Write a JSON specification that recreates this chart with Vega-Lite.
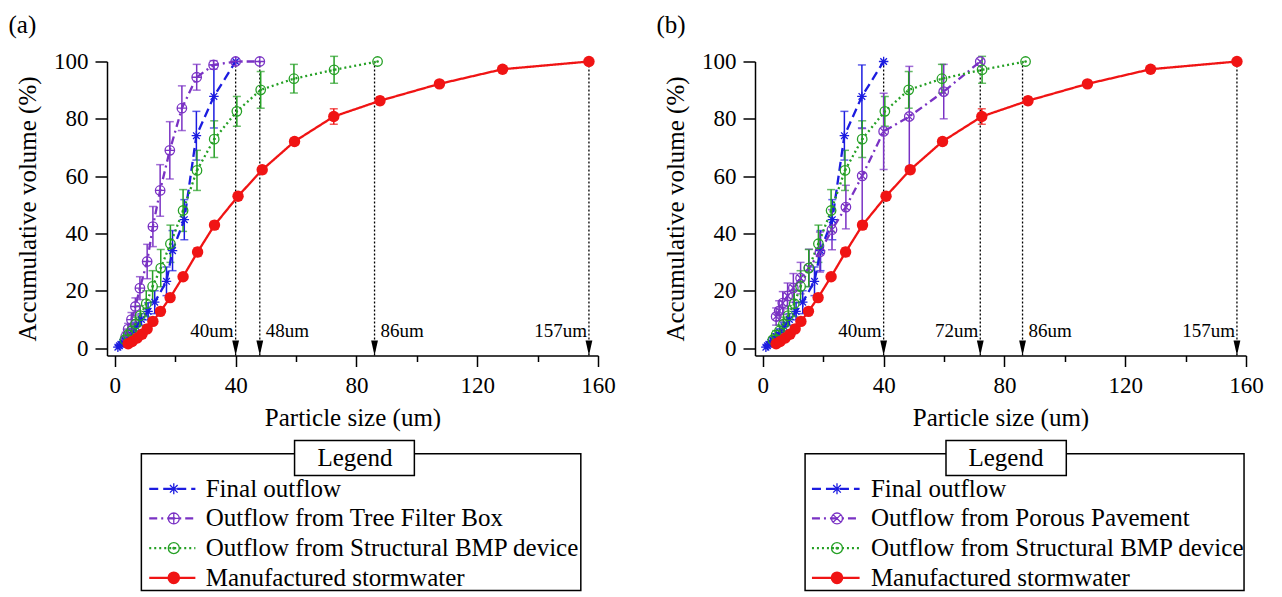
{
"$schema": "https://vega.github.io/schema/vega-lite/v6.json",
"background": "white",
"padding": {"left": 8, "top": 12.5, "right": 5, "bottom": 0},
"columns": 2,
"spacing": {"row": 84.3, "column": 157},
"bounds": "flush",
"config": {"font": "Liberation Serif", "view": {"stroke": null},
 "axis": {"domainColor": "black", "domainWidth": 1.5, "tickColor": "black", "tickWidth": 1.5, "labelFont": "Liberation Serif", "labelFontSize": 23, "labelColor": "black", "titleFont": "Liberation Serif", "titleFontSize": 25, "titleFontWeight": "normal", "titleColor": "black", "grid": false},
 "title": {"font": "Liberation Serif", "fontSize": 25, "fontWeight": "normal", "color": "black"}},
"datasets": {
 "s": [
  {"p":"ab","s":"Final outflow","x":1.0,"y":0.3,"e":0},
  {"p":"ab","s":"Final outflow","x":1.5,"y":0.8,"e":0},
  {"p":"ab","s":"Final outflow","x":2.0,"y":1.3,"e":0},
  {"p":"ab","s":"Final outflow","x":2.6,"y":1.9,"e":0},
  {"p":"ab","s":"Final outflow","x":3.3,"y":2.7,"e":0.8},
  {"p":"ab","s":"Final outflow","x":4.4,"y":4.0,"e":1},
  {"p":"ab","s":"Final outflow","x":5.6,"y":5.5,"e":1.2},
  {"p":"ab","s":"Final outflow","x":7.0,"y":7.5,"e":1.5},
  {"p":"ab","s":"Final outflow","x":8.8,"y":10.0,"e":2},
  {"p":"ab","s":"Final outflow","x":11.0,"y":12.8,"e":3},
  {"p":"ab","s":"Final outflow","x":13.2,"y":16.0,"e":4},
  {"p":"ab","s":"Final outflow","x":17.1,"y":23.3,"e":5},
  {"p":"ab","s":"Final outflow","x":19.1,"y":34.0,"e":7},
  {"p":"ab","s":"Final outflow","x":23.0,"y":44.8,"e":7},
  {"p":"ab","s":"Final outflow","x":27.0,"y":74.1,"e":8.5},
  {"p":"ab","s":"Final outflow","x":32.8,"y":87.8,"e":11},
  {"p":"ab","s":"Final outflow","x":40.0,"y":100,"e":0},
  {"p":"a","s":"Outflow from Tree Filter Box","x":3.6,"y":4.0,"e":1.5},
  {"p":"a","s":"Outflow from Tree Filter Box","x":4.4,"y":6.6,"e":2},
  {"p":"a","s":"Outflow from Tree Filter Box","x":5.5,"y":9.9,"e":2.5},
  {"p":"a","s":"Outflow from Tree Filter Box","x":6.8,"y":14.5,"e":3},
  {"p":"a","s":"Outflow from Tree Filter Box","x":8.3,"y":20.9,"e":4},
  {"p":"a","s":"Outflow from Tree Filter Box","x":10.7,"y":30.2,"e":6},
  {"p":"a","s":"Outflow from Tree Filter Box","x":12.6,"y":42.4,"e":7},
  {"p":"a","s":"Outflow from Tree Filter Box","x":15.0,"y":55.0,"e":9},
  {"p":"a","s":"Outflow from Tree Filter Box","x":18.2,"y":69.0,"e":10},
  {"p":"a","s":"Outflow from Tree Filter Box","x":22.2,"y":83.7,"e":7.8},
  {"p":"a","s":"Outflow from Tree Filter Box","x":27.1,"y":94.5,"e":4.5},
  {"p":"a","s":"Outflow from Tree Filter Box","x":32.7,"y":98.8,"e":1.5},
  {"p":"a","s":"Outflow from Tree Filter Box","x":40.0,"y":100,"e":0},
  {"p":"a","s":"Outflow from Tree Filter Box","x":48.0,"y":100,"e":0},
  {"p":"b","s":"Outflow from Porous Pavement","x":4.4,"y":11.0,"e":3},
  {"p":"b","s":"Outflow from Porous Pavement","x":5.4,"y":13.0,"e":3.5},
  {"p":"b","s":"Outflow from Porous Pavement","x":6.6,"y":15.7,"e":4},
  {"p":"b","s":"Outflow from Porous Pavement","x":8.2,"y":18.2,"e":4.5},
  {"p":"b","s":"Outflow from Porous Pavement","x":10.1,"y":21.0,"e":5},
  {"p":"b","s":"Outflow from Porous Pavement","x":12.5,"y":24.4,"e":5.5},
  {"p":"b","s":"Outflow from Porous Pavement","x":15.3,"y":28.0,"e":6.5},
  {"p":"b","s":"Outflow from Porous Pavement","x":18.9,"y":33.5,"e":7},
  {"p":"b","s":"Outflow from Porous Pavement","x":22.9,"y":41.3,"e":7},
  {"p":"b","s":"Outflow from Porous Pavement","x":27.5,"y":49.2,"e":7.6},
  {"p":"b","s":"Outflow from Porous Pavement","x":32.9,"y":60.1,"e":16.5},
  {"p":"b","s":"Outflow from Porous Pavement","x":40.0,"y":75.6,"e":13.3},
  {"p":"b","s":"Outflow from Porous Pavement","x":48.5,"y":80.8,"e":17.5},
  {"p":"b","s":"Outflow from Porous Pavement","x":59.9,"y":89.5,"e":9.5},
  {"p":"b","s":"Outflow from Porous Pavement","x":72.0,"y":100,"e":0},
  {"p":"ab","s":"Outflow from Structural BMP device","x":3.3,"y":2.9,"e":1},
  {"p":"ab","s":"Outflow from Structural BMP device","x":4.4,"y":4.6,"e":1.5},
  {"p":"ab","s":"Outflow from Structural BMP device","x":5.5,"y":6.0,"e":2},
  {"p":"ab","s":"Outflow from Structural BMP device","x":6.8,"y":8.3,"e":2.5},
  {"p":"ab","s":"Outflow from Structural BMP device","x":8.4,"y":11.3,"e":3.5},
  {"p":"ab","s":"Outflow from Structural BMP device","x":10.4,"y":15.5,"e":4.5},
  {"p":"ab","s":"Outflow from Structural BMP device","x":12.5,"y":21.5,"e":5.5},
  {"p":"ab","s":"Outflow from Structural BMP device","x":15.2,"y":27.9,"e":6.5},
  {"p":"ab","s":"Outflow from Structural BMP device","x":18.4,"y":36.4,"e":6.5},
  {"p":"ab","s":"Outflow from Structural BMP device","x":22.6,"y":48.0,"e":7.3},
  {"p":"ab","s":"Outflow from Structural BMP device","x":27.2,"y":62.0,"e":7},
  {"p":"ab","s":"Outflow from Structural BMP device","x":32.9,"y":72.9,"e":6.4},
  {"p":"ab","s":"Outflow from Structural BMP device","x":40.4,"y":82.6,"e":5.2},
  {"p":"ab","s":"Outflow from Structural BMP device","x":48.3,"y":90.1,"e":6.4},
  {"p":"ab","s":"Outflow from Structural BMP device","x":59.3,"y":94.0,"e":5},
  {"p":"ab","s":"Outflow from Structural BMP device","x":72.6,"y":97.1,"e":4.7},
  {"p":"ab","s":"Outflow from Structural BMP device","x":87.0,"y":100,"e":0},
  {"p":"ab","s":"Manufactured stormwater","x":4.4,"y":1.5,"e":0},
  {"p":"ab","s":"Manufactured stormwater","x":5.7,"y":2.3,"e":0},
  {"p":"ab","s":"Manufactured stormwater","x":7.4,"y":3.5,"e":0},
  {"p":"ab","s":"Manufactured stormwater","x":9.0,"y":4.8,"e":0},
  {"p":"ab","s":"Manufactured stormwater","x":10.7,"y":6.7,"e":0.7},
  {"p":"ab","s":"Manufactured stormwater","x":12.6,"y":9.3,"e":0.8},
  {"p":"ab","s":"Manufactured stormwater","x":15.1,"y":12.8,"e":0.8},
  {"p":"ab","s":"Manufactured stormwater","x":18.3,"y":17.6,"e":1},
  {"p":"ab","s":"Manufactured stormwater","x":22.6,"y":24.9,"e":1.2},
  {"p":"ab","s":"Manufactured stormwater","x":27.4,"y":33.5,"e":1.5},
  {"p":"ab","s":"Manufactured stormwater","x":33.0,"y":42.9,"e":1.3},
  {"p":"ab","s":"Manufactured stormwater","x":40.8,"y":53.0,"e":1.3},
  {"p":"ab","s":"Manufactured stormwater","x":48.8,"y":62.2,"e":1.3},
  {"p":"ab","s":"Manufactured stormwater","x":59.5,"y":72.1,"e":1.1},
  {"p":"ab","s":"Manufactured stormwater","x":72.5,"y":80.8,"e":2.7},
  {"p":"ab","s":"Manufactured stormwater","x":87.8,"y":86.3,"e":1.3},
  {"p":"ab","s":"Manufactured stormwater","x":107.5,"y":92.2,"e":0.5},
  {"p":"ab","s":"Manufactured stormwater","x":128.4,"y":97.3,"e":0.5},
  {"p":"ab","s":"Manufactured stormwater","x":157.0,"y":100,"e":0}
 ],
 "vl": [
  {"p":"a","x":40,"y":100,"lab":"40um"},
  {"p":"a","x":48,"y":100,"lab":"48um"},
  {"p":"a","x":86,"y":100,"lab":"86um"},
  {"p":"a","x":157,"y":100,"lab":"157um"},
  {"p":"b","x":40,"y":100,"lab":"40um"},
  {"p":"b","x":72,"y":100,"lab":"72um"},
  {"p":"b","x":86,"y":100,"lab":"86um"},
  {"p":"b","x":157,"y":100,"lab":"157um"}
 ],
 "leg": [
  {"p":"a","ord":1,"s":"Final outflow"},
  {"p":"a","ord":2,"s":"Outflow from Tree Filter Box"},
  {"p":"a","ord":3,"s":"Outflow from Structural BMP device"},
  {"p":"a","ord":4,"s":"Manufactured stormwater"},
  {"p":"b","ord":1,"s":"Final outflow"},
  {"p":"b","ord":2,"s":"Outflow from Porous Pavement"},
  {"p":"b","ord":3,"s":"Outflow from Structural BMP device"},
  {"p":"b","ord":4,"s":"Manufactured stormwater"}
 ]
},
"concat": [
 {
  "width": 491, "height": 294,
  "title": {"text": "(a)", "anchor": "start", "frame": "bounds", "dx": -7, "offset": 13},
  "encoding": {
   "x": {"field": "x", "type": "quantitative", "scale": {"domain": [-2.6, 160], "nice": false, "zero": false},
    "axis": {"title": "Particle size (um)", "values": [0,20,40,60,80,100,120,140,160], "labelExpr": "datum.value % 40 === 0 ? datum.label : ''", "tickSize": {"condition": {"test": "datum.value % 40 === 0", "value": 11}, "value": 6}, "labelOverlap": false, "labelFlush": false, "labelPadding": 8, "titlePadding": 8}},
   "y": {"field": "y", "type": "quantitative", "scale": {"domain": [-2.6, 100], "nice": false, "zero": false},
    "axis": {"title": "Accumulative volume (%)", "values": [0,20,40,60,80,100], "tickSize": 12, "labelPadding": 7, "titlePadding": 13, "labelFlush": false, "labelOverlap": false}}
  },
  "layer": [
   {"data": {"name": "vl"}, "transform": [{"filter": "datum.p == 'a'"}],
    "mark": {"type": "rule", "strokeDash": [2, 2], "strokeWidth": 1.3, "color": "black"},
    "encoding": {"y2": {"datum": -2.6}}},
   {"data": {"name": "vl"}, "transform": [{"filter": "datum.p == 'a'"}],
    "mark": {"type": "point", "shape": "M-0.5,-2.2L0.5,-2.2L0,0Z", "filled": true, "color": "black", "size": 185, "opacity": 1},
    "encoding": {"y": {"datum": -2.6}}},
   {"data": {"name": "vl"}, "transform": [{"filter": "datum.p == 'a' && datum.x != 48 && datum.x != 86"}],
    "mark": {"type": "text", "align": "right", "baseline": "middle", "dx": -2, "fontSize": 19, "color": "black"},
    "encoding": {"y": {"datum": 6}, "text": {"field": "lab"}}},
   {"data": {"name": "vl"}, "transform": [{"filter": "datum.p == 'a' && (datum.x == 48 || datum.x == 86)"}],
    "mark": {"type": "text", "align": "left", "baseline": "middle", "dx": 6, "fontSize": 19, "color": "black"},
    "encoding": {"y": {"datum": 6}, "text": {"field": "lab"}}},
   {"data": {"name": "s"}, "transform": [{"filter": "indexof(datum.p, 'a') >= 0 && datum.e > 0"}],
    "mark": {"type": "errorbar", "ticks": {"size": 8}, "thickness": 1.5},
    "encoding": {"yError": {"field": "e"},
     "color": {"field": "s", "type": "nominal", "legend": null, "scale": {"domain": ["Final outflow","Outflow from Tree Filter Box","Outflow from Porous Pavement","Outflow from Structural BMP device","Manufactured stormwater"], "range": ["#1c1ce0","#7a32c4","#7a32c4","#25a025","#f01414"]}}}},
   {"data": {"name": "s"}, "transform": [{"filter": "indexof(datum.p, 'a') >= 0"}],
    "mark": {"type": "line", "strokeWidth": 2.3},
    "encoding": {
     "color": {"field": "s", "type": "nominal", "legend": null, "scale": {"domain": ["Final outflow","Outflow from Tree Filter Box","Outflow from Porous Pavement","Outflow from Structural BMP device","Manufactured stormwater"], "range": ["#1c1ce0","#7a32c4","#7a32c4","#25a025","#f01414"]}},
     "strokeDash": {"field": "s", "type": "nominal", "legend": null, "scale": {"domain": ["Final outflow","Outflow from Tree Filter Box","Outflow from Porous Pavement","Outflow from Structural BMP device","Manufactured stormwater"], "range": [[9,5],[8,4,2,4],[8,4,2,4],[2,3],[1,0]]}}}},
   {"data": {"name": "s"}, "transform": [{"filter": "indexof(datum.p, 'a') >= 0 && datum.s != 'Manufactured stormwater'"}],
    "mark": {"type": "point", "filled": false, "strokeWidth": 1.3, "size": 90, "opacity": 1},
    "encoding": {
     "color": {"field": "s", "type": "nominal", "legend": null, "scale": {"domain": ["Final outflow","Outflow from Tree Filter Box","Outflow from Porous Pavement","Outflow from Structural BMP device","Manufactured stormwater"], "range": ["#1c1ce0","#7a32c4","#7a32c4","#25a025","#f01414"]}},
     "shape": {"field": "s", "type": "nominal", "legend": null, "scale": {"domain": ["Final outflow","Outflow from Tree Filter Box","Outflow from Porous Pavement","Outflow from Structural BMP device","Manufactured stormwater"], "range": ["M-1,0L1,0M0,-1L0,1M-0.7,-0.7L0.7,0.7M-0.7,0.7L0.7,-0.7","M1,0A1,1,0,1,1,-1,0A1,1,0,1,1,1,0ZM-1,0L1,0M0,-1L0,1","M1,0A1,1,0,1,1,-1,0A1,1,0,1,1,1,0ZM-0.7,-0.7L0.7,0.7M-0.7,0.7L0.7,-0.7","M1,0A1,1,0,1,1,-1,0A1,1,0,1,1,1,0ZM0.15,0A0.15,0.15,0,1,1,-0.15,0A0.15,0.15,0,1,1,0.15,0Z","circle"]}}}},
   {"data": {"name": "s"}, "transform": [{"filter": "indexof(datum.p, 'a') >= 0 && datum.s == 'Manufactured stormwater'"}],
    "mark": {"type": "point", "filled": true, "shape": "circle", "size": 130, "opacity": 1, "color": "#f01414"}}
  ]
 },
 {
  "width": 491, "height": 294,
  "title": {"text": "(b)", "anchor": "start", "frame": "bounds", "dx": -7, "offset": 13},
  "encoding": {
   "x": {"field": "x", "type": "quantitative", "scale": {"domain": [-2.6, 160], "nice": false, "zero": false},
    "axis": {"title": "Particle size (um)", "values": [0,20,40,60,80,100,120,140,160], "labelExpr": "datum.value % 40 === 0 ? datum.label : ''", "tickSize": {"condition": {"test": "datum.value % 40 === 0", "value": 11}, "value": 6}, "labelOverlap": false, "labelFlush": false, "labelPadding": 8, "titlePadding": 8}},
   "y": {"field": "y", "type": "quantitative", "scale": {"domain": [-2.6, 100], "nice": false, "zero": false},
    "axis": {"title": "Accumulative volume (%)", "values": [0,20,40,60,80,100], "tickSize": 12, "labelPadding": 7, "titlePadding": 13, "labelFlush": false, "labelOverlap": false}}
  },
  "layer": [
   {"data": {"name": "vl"}, "transform": [{"filter": "datum.p == 'b'"}],
    "mark": {"type": "rule", "strokeDash": [2, 2], "strokeWidth": 1.3, "color": "black"},
    "encoding": {"y2": {"datum": -2.6}}},
   {"data": {"name": "vl"}, "transform": [{"filter": "datum.p == 'b'"}],
    "mark": {"type": "point", "shape": "M-0.5,-2.2L0.5,-2.2L0,0Z", "filled": true, "color": "black", "size": 185, "opacity": 1},
    "encoding": {"y": {"datum": -2.6}}},
   {"data": {"name": "vl"}, "transform": [{"filter": "datum.p == 'b' && datum.x != 48 && datum.x != 86"}],
    "mark": {"type": "text", "align": "right", "baseline": "middle", "dx": -2, "fontSize": 19, "color": "black"},
    "encoding": {"y": {"datum": 6}, "text": {"field": "lab"}}},
   {"data": {"name": "vl"}, "transform": [{"filter": "datum.p == 'b' && (datum.x == 48 || datum.x == 86)"}],
    "mark": {"type": "text", "align": "left", "baseline": "middle", "dx": 6, "fontSize": 19, "color": "black"},
    "encoding": {"y": {"datum": 6}, "text": {"field": "lab"}}},
   {"data": {"name": "s"}, "transform": [{"filter": "indexof(datum.p, 'b') >= 0 && datum.e > 0"}],
    "mark": {"type": "errorbar", "ticks": {"size": 8}, "thickness": 1.5},
    "encoding": {"yError": {"field": "e"},
     "color": {"field": "s", "type": "nominal", "legend": null, "scale": {"domain": ["Final outflow","Outflow from Tree Filter Box","Outflow from Porous Pavement","Outflow from Structural BMP device","Manufactured stormwater"], "range": ["#1c1ce0","#7a32c4","#7a32c4","#25a025","#f01414"]}}}},
   {"data": {"name": "s"}, "transform": [{"filter": "indexof(datum.p, 'b') >= 0"}],
    "mark": {"type": "line", "strokeWidth": 2.3},
    "encoding": {
     "color": {"field": "s", "type": "nominal", "legend": null, "scale": {"domain": ["Final outflow","Outflow from Tree Filter Box","Outflow from Porous Pavement","Outflow from Structural BMP device","Manufactured stormwater"], "range": ["#1c1ce0","#7a32c4","#7a32c4","#25a025","#f01414"]}},
     "strokeDash": {"field": "s", "type": "nominal", "legend": null, "scale": {"domain": ["Final outflow","Outflow from Tree Filter Box","Outflow from Porous Pavement","Outflow from Structural BMP device","Manufactured stormwater"], "range": [[9,5],[8,4,2,4],[8,4,2,4],[2,3],[1,0]]}}}},
   {"data": {"name": "s"}, "transform": [{"filter": "indexof(datum.p, 'b') >= 0 && datum.s != 'Manufactured stormwater'"}],
    "mark": {"type": "point", "filled": false, "strokeWidth": 1.3, "size": 90, "opacity": 1},
    "encoding": {
     "color": {"field": "s", "type": "nominal", "legend": null, "scale": {"domain": ["Final outflow","Outflow from Tree Filter Box","Outflow from Porous Pavement","Outflow from Structural BMP device","Manufactured stormwater"], "range": ["#1c1ce0","#7a32c4","#7a32c4","#25a025","#f01414"]}},
     "shape": {"field": "s", "type": "nominal", "legend": null, "scale": {"domain": ["Final outflow","Outflow from Tree Filter Box","Outflow from Porous Pavement","Outflow from Structural BMP device","Manufactured stormwater"], "range": ["M-1,0L1,0M0,-1L0,1M-0.7,-0.7L0.7,0.7M-0.7,0.7L0.7,-0.7","M1,0A1,1,0,1,1,-1,0A1,1,0,1,1,1,0ZM-1,0L1,0M0,-1L0,1","M1,0A1,1,0,1,1,-1,0A1,1,0,1,1,1,0ZM-0.7,-0.7L0.7,0.7M-0.7,0.7L0.7,-0.7","M1,0A1,1,0,1,1,-1,0A1,1,0,1,1,1,0ZM0.15,0A0.15,0.15,0,1,1,-0.15,0A0.15,0.15,0,1,1,0.15,0Z","circle"]}}}},
   {"data": {"name": "s"}, "transform": [{"filter": "indexof(datum.p, 'b') >= 0 && datum.s == 'Manufactured stormwater'"}],
    "mark": {"type": "point", "filled": true, "shape": "circle", "size": 130, "opacity": 1, "color": "#f01414"}}
  ]
 },
 {
  "width": 491, "height": 152,
  "layer": [
   {"data": {"values": [{}]},
    "mark": {"type": "rect", "filled": false, "color": "black", "strokeWidth": 1.5},
    "encoding": {"x": {"datum": 7.0, "type": "quantitative", "scale": {"domain": [0, 100], "nice": false, "zero": false}, "axis": null}, "x2": {"datum": 96.5},
     "y": {"datum": -0.18, "type": "quantitative", "scale": {"domain": [-0.65, 4.47], "reverse": true, "nice": false, "zero": false}, "axis": null}, "y2": {"datum": 4.43}}},
   {"data": {"values": [{}]},
    "mark": {"type": "rect", "fill": "white", "stroke": "black", "strokeWidth": 1.5},
    "encoding": {"x": {"datum": 38.2, "type": "quantitative", "axis": null}, "x2": {"datum": 62.6}, "y": {"datum": -0.63, "type": "quantitative", "axis": null}, "y2": {"datum": 0.55}}},
   {"data": {"values": [{}]},
    "mark": {"type": "text", "text": "Legend", "fontSize": 25, "align": "center", "baseline": "middle", "color": "black"},
    "encoding": {"x": {"datum": 50.5, "type": "quantitative", "axis": null}, "y": {"datum": -0.04, "type": "quantitative", "axis": null}}},
   {"data": {"name": "leg"}, "transform": [{"filter": "datum.p == 'a'"}],
    "mark": {"type": "rule", "strokeWidth": 2.2},
    "encoding": {"x": {"datum": 8.6, "type": "quantitative", "axis": null}, "x2": {"datum": 18.0}, "y": {"field": "ord", "type": "quantitative", "axis": null},
     "color": {"field": "s", "type": "nominal", "legend": null, "scale": {"domain": ["Final outflow","Outflow from Tree Filter Box","Outflow from Porous Pavement","Outflow from Structural BMP device","Manufactured stormwater"], "range": ["#1c1ce0","#7a32c4","#7a32c4","#25a025","#f01414"]}},
     "strokeDash": {"field": "s", "type": "nominal", "legend": null, "scale": {"domain": ["Final outflow","Outflow from Tree Filter Box","Outflow from Porous Pavement","Outflow from Structural BMP device","Manufactured stormwater"], "range": [[9,5],[8,4,2,4],[8,4,2,4],[2,3],[1,0]]}}}},
   {"data": {"name": "leg"}, "transform": [{"filter": "datum.p == 'a' && datum.s != 'Manufactured stormwater'"}],
    "mark": {"type": "point", "filled": false, "strokeWidth": 1.3, "size": 120, "opacity": 1},
    "encoding": {"x": {"datum": 13.6, "type": "quantitative", "axis": null}, "y": {"field": "ord", "type": "quantitative", "axis": null},
     "color": {"field": "s", "type": "nominal", "legend": null, "scale": {"domain": ["Final outflow","Outflow from Tree Filter Box","Outflow from Porous Pavement","Outflow from Structural BMP device","Manufactured stormwater"], "range": ["#1c1ce0","#7a32c4","#7a32c4","#25a025","#f01414"]}},
     "shape": {"field": "s", "type": "nominal", "legend": null, "scale": {"domain": ["Final outflow","Outflow from Tree Filter Box","Outflow from Porous Pavement","Outflow from Structural BMP device","Manufactured stormwater"], "range": ["M-1,0L1,0M0,-1L0,1M-0.7,-0.7L0.7,0.7M-0.7,0.7L0.7,-0.7","M1,0A1,1,0,1,1,-1,0A1,1,0,1,1,1,0ZM-1,0L1,0M0,-1L0,1","M1,0A1,1,0,1,1,-1,0A1,1,0,1,1,1,0ZM-0.7,-0.7L0.7,0.7M-0.7,0.7L0.7,-0.7","M1,0A1,1,0,1,1,-1,0A1,1,0,1,1,1,0ZM0.15,0A0.15,0.15,0,1,1,-0.15,0A0.15,0.15,0,1,1,0.15,0Z","circle"]}}}},
   {"data": {"name": "leg"}, "transform": [{"filter": "datum.p == 'a' && datum.s == 'Manufactured stormwater'"}],
    "mark": {"type": "point", "filled": true, "shape": "circle", "size": 160, "opacity": 1, "color": "#f01414"},
    "encoding": {"x": {"datum": 13.6, "type": "quantitative", "axis": null}, "y": {"field": "ord", "type": "quantitative", "axis": null}}},
   {"data": {"name": "leg"}, "transform": [{"filter": "datum.p == 'a'"}],
    "mark": {"type": "text", "fontSize": 25, "align": "left", "baseline": "middle", "color": "black"},
    "encoding": {"x": {"datum": 20.1, "type": "quantitative", "axis": null}, "y": {"field": "ord", "type": "quantitative", "axis": null}, "text": {"field": "s"}}}
  ]
 },
 {
  "width": 491, "height": 152,
  "layer": [
   {"data": {"values": [{}]},
    "mark": {"type": "rect", "filled": false, "color": "black", "strokeWidth": 1.5},
    "encoding": {"x": {"datum": 10.2, "type": "quantitative", "scale": {"domain": [0, 100], "nice": false, "zero": false}, "axis": null}, "x2": {"datum": 99.6},
     "y": {"datum": -0.18, "type": "quantitative", "scale": {"domain": [-0.65, 4.47], "reverse": true, "nice": false, "zero": false}, "axis": null}, "y2": {"datum": 4.43}}},
   {"data": {"values": [{}]},
    "mark": {"type": "rect", "fill": "white", "stroke": "black", "strokeWidth": 1.5},
    "encoding": {"x": {"datum": 38.9, "type": "quantitative", "axis": null}, "x2": {"datum": 63.4}, "y": {"datum": -0.63, "type": "quantitative", "axis": null}, "y2": {"datum": 0.55}}},
   {"data": {"values": [{}]},
    "mark": {"type": "text", "text": "Legend", "fontSize": 25, "align": "center", "baseline": "middle", "color": "black"},
    "encoding": {"x": {"datum": 51.1, "type": "quantitative", "axis": null}, "y": {"datum": -0.04, "type": "quantitative", "axis": null}}},
   {"data": {"name": "leg"}, "transform": [{"filter": "datum.p == 'b'"}],
    "mark": {"type": "rule", "strokeWidth": 2.2},
    "encoding": {"x": {"datum": 11.6, "type": "quantitative", "axis": null}, "x2": {"datum": 21.3}, "y": {"field": "ord", "type": "quantitative", "axis": null},
     "color": {"field": "s", "type": "nominal", "legend": null, "scale": {"domain": ["Final outflow","Outflow from Tree Filter Box","Outflow from Porous Pavement","Outflow from Structural BMP device","Manufactured stormwater"], "range": ["#1c1ce0","#7a32c4","#7a32c4","#25a025","#f01414"]}},
     "strokeDash": {"field": "s", "type": "nominal", "legend": null, "scale": {"domain": ["Final outflow","Outflow from Tree Filter Box","Outflow from Porous Pavement","Outflow from Structural BMP device","Manufactured stormwater"], "range": [[9,5],[8,4,2,4],[8,4,2,4],[2,3],[1,0]]}}}},
   {"data": {"name": "leg"}, "transform": [{"filter": "datum.p == 'b' && datum.s != 'Manufactured stormwater'"}],
    "mark": {"type": "point", "filled": false, "strokeWidth": 1.3, "size": 120, "opacity": 1},
    "encoding": {"x": {"datum": 16.7, "type": "quantitative", "axis": null}, "y": {"field": "ord", "type": "quantitative", "axis": null},
     "color": {"field": "s", "type": "nominal", "legend": null, "scale": {"domain": ["Final outflow","Outflow from Tree Filter Box","Outflow from Porous Pavement","Outflow from Structural BMP device","Manufactured stormwater"], "range": ["#1c1ce0","#7a32c4","#7a32c4","#25a025","#f01414"]}},
     "shape": {"field": "s", "type": "nominal", "legend": null, "scale": {"domain": ["Final outflow","Outflow from Tree Filter Box","Outflow from Porous Pavement","Outflow from Structural BMP device","Manufactured stormwater"], "range": ["M-1,0L1,0M0,-1L0,1M-0.7,-0.7L0.7,0.7M-0.7,0.7L0.7,-0.7","M1,0A1,1,0,1,1,-1,0A1,1,0,1,1,1,0ZM-1,0L1,0M0,-1L0,1","M1,0A1,1,0,1,1,-1,0A1,1,0,1,1,1,0ZM-0.7,-0.7L0.7,0.7M-0.7,0.7L0.7,-0.7","M1,0A1,1,0,1,1,-1,0A1,1,0,1,1,1,0ZM0.15,0A0.15,0.15,0,1,1,-0.15,0A0.15,0.15,0,1,1,0.15,0Z","circle"]}}}},
   {"data": {"name": "leg"}, "transform": [{"filter": "datum.p == 'b' && datum.s == 'Manufactured stormwater'"}],
    "mark": {"type": "point", "filled": true, "shape": "circle", "size": 160, "opacity": 1, "color": "#f01414"},
    "encoding": {"x": {"datum": 16.7, "type": "quantitative", "axis": null}, "y": {"field": "ord", "type": "quantitative", "axis": null}}},
   {"data": {"name": "leg"}, "transform": [{"filter": "datum.p == 'b'"}],
    "mark": {"type": "text", "fontSize": 25, "align": "left", "baseline": "middle", "color": "black"},
    "encoding": {"x": {"datum": 23.6, "type": "quantitative", "axis": null}, "y": {"field": "ord", "type": "quantitative", "axis": null}, "text": {"field": "s"}}}
  ]
 }
]
}
